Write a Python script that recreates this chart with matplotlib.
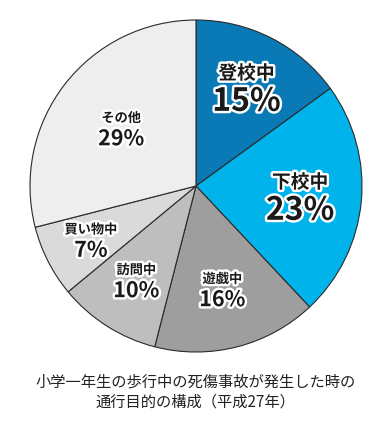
import numpy as np
import matplotlib
matplotlib.use("Agg")
import matplotlib.pyplot as plt
import matplotlib.patheffects as pe

plt.rcParams['font.family'] = ['Noto Sans CJK JP', 'DejaVu Sans']

categories = ["登校中", "下校中", "遊戯中", "訪問中", "買い物中", "その他"]
shares = [15, 23, 16, 10, 7, 29]
colors = ["#0a7ab6", "#00b3ea", "#9e9e9e", "#bebebe", "#dadada", "#eeeeee"]
# radial position of each label (fraction of radius)
label_r = [0.67, 0.63, 0.64, 0.67, 0.71, 0.57]
big = [True, True, False, False, False, False]
caption = "小学一年生の歩行中の死傷事故が発生した時の\n通行目的の構成（平成27年）"

fig = plt.figure(figsize=(3.8, 4.23), dpi=100)
ax = fig.add_axes([30 / 380, 71 / 423, 332 / 380, 332 / 423])

wedges, _ = ax.pie(shares, colors=colors, startangle=90, counterclock=False,
                   radius=1, wedgeprops=dict(edgecolor="#2a2a2a", linewidth=0.8))
ax.set_xlim(-1, 1)
ax.set_ylim(-1, 1)
ax.set_aspect("equal")
ax.axis("off")

halo = [pe.withStroke(linewidth=3.5, foreground="white")]
for w, cat, val, r, b in zip(wedges, categories, shares, label_r, big):
    mid = np.deg2rad((w.theta1 + w.theta2) / 2)
    x, y = r * np.cos(mid), r * np.sin(mid)
    if b:
        fs1, fs2, up, down = 13.5, 23, 0.08, 0.09
    else:
        fs1, fs2, up, down = 9.5, 15.5, 0.06, 0.065
    ax.text(x, y + up, cat, ha="center", va="center", fontsize=fs1,
            fontweight="bold", color="#1a1a1a", path_effects=halo)
    ax.text(x, y - down, f"{val}%", ha="center", va="center", fontsize=fs2,
            fontweight="bold", color="#1a1a1a", path_effects=halo)

fig.text(0.515, 1 - 392 / 423, caption, ha="center", va="center",
         fontsize=11, color="#222222", linespacing=1.2)

fig.savefig("out.png", dpi=100)
